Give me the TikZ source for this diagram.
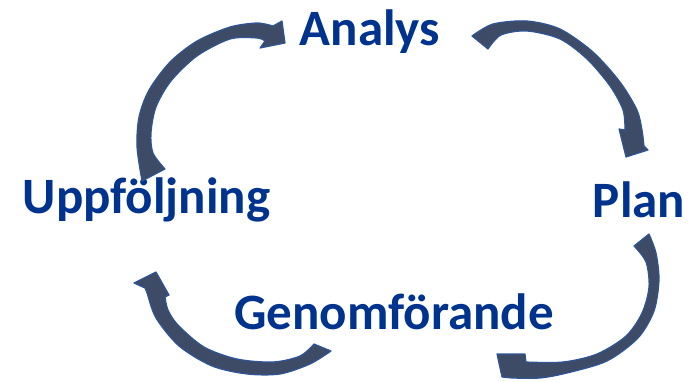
\documentclass[tikz,border=0pt]{standalone}
\usepackage{fontspec}
\setmainfont{Carlito}
\definecolor{labelblue}{RGB}{0,51,141}
\definecolor{arrowfill}{RGB}{61,75,102}
\definecolor{arrowline}{RGB}{47,85,151}
\tikzset{
  label/.style={text=labelblue, font=\bfseries\fontsize{51}{60}\selectfont, inner sep=0pt, anchor=base},
  curvedarrow/.style={fill=arrowfill, draw=arrowline, line width=1.2pt, line join=round}
}
\begin{document}
\begin{tikzpicture}[x=1pt,y=-1pt]
\useasboundingbox (0,0) rectangle (694,381);
\node[label] (analys) at (370,45) {Analys};
\node[label] (plan) at (639,217) {Plan};
\node[label] (uppf) at (146.5,213) {Uppföljning};
\node[label] (genom) at (394,329) {Genomförande};
% Uppföljning -> Analys
\filldraw[curvedarrow] plot[smooth] coordinates {(142,181) (137,147) (139,117) (149,90) (170,62) (197,41) (230,27) (257,23) (273,26)}
  -- (282,21) -- (285,43) -- (260,48)
  -- plot[smooth] coordinates {(265,41) (257,38) (230,39) (197,56) (171,81) (156,107) (151,133) (153,153) (165,169)} -- cycle;
% Analys -> Plan
\filldraw[curvedarrow] plot[smooth] coordinates {(472,36) (493,24) (527,21) (560,29) (593,52) (620,82) (637,110) (642,130) (644,146)}
  -- (648,150) -- (626,157) -- (619,129)
  -- plot[smooth] coordinates {(625,130) (623,110) (610,86) (587,59) (560,39) (527,31) (501,35) (488,49)} -- cycle;
% Plan -> Genomförande
\filldraw[curvedarrow] plot[smooth] coordinates {(649,234) (656,253) (659,280) (654,311) (638,338) (607,361) (567,373) (540,378) (512,378)}
  -- (502,377) -- (497,354) -- (525,354)
  -- plot[smooth] coordinates {(526,362) (563,362) (597,354) (626,336) (642,313) (649,287) (646,262) (634,246)} -- cycle;
% Genomförande -> Uppföljning
\filldraw[curvedarrow] plot[smooth] coordinates {(331,351) (310,364) (280,374) (247,374) (212,366) (179,346) (156,318) (147,293) (145,288)}
  -- (134,283) -- (156,272) -- (169,295)
  -- plot[smooth] coordinates {(165,297) (168,310) (178,325) (204,347) (237,359) (273,362) (300,356) (314,344)} -- cycle;
\end{tikzpicture}
\end{document}
